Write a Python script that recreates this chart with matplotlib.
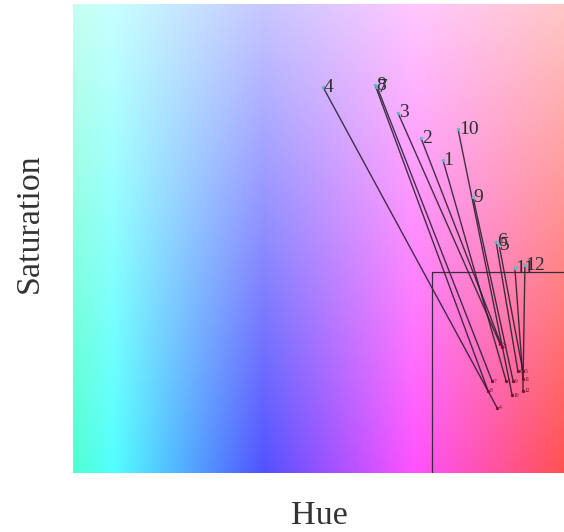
import numpy as np
import matplotlib
matplotlib.use('Agg')
import matplotlib.pyplot as plt
from matplotlib.colors import hsv_to_rgb

# hue in degrees, saturation in percent
labels = ['1', '2', '3', '4', '5', '6', '7', '8', '9', '10', '11', '12']
hue_start = [311.7, 302.9, 293.7, 263.8, 334.1, 332.9, 285.4, 284.6, 323.7, 317.7, 340.4, 344.4]
sat_start = [66.7, 71.4, 76.8, 82.3, 48.6, 49.3, 82.3, 82.7, 58.8, 73.3, 43.7, 44.3]
hue_end = [336.9, 335.3, 334.5, 333.3, 343.6, 341.6, 331.3, 329.7, 339.7, 339.3, 343.6, 343.6]
sat_end = [19.6, 26.9, 27.5, 13.9, 21.7, 21.7, 19.6, 17.5, 19.6, 16.6, 20.0, 17.5]

# target box
box_hue = 307.3
box_sat = 42.9

hue_min, hue_max = 164, 360
sat_min, sat_max = 0, 100

fig = plt.figure(figsize=(5.64, 5.32), dpi=100)
ax = fig.add_axes([73 / 564, 59 / 532, 491 / 564, 469 / 532])

# hue / saturation backdrop
hh, ss = np.meshgrid(np.linspace(hue_min, hue_max, 400), np.linspace(0, 1, 200))
hsv = np.dstack([(hh % 360) / 360, 0.68 - 0.46 * ss, np.ones_like(hh)])
ax.imshow(hsv_to_rgb(hsv), extent=[hue_min, hue_max, sat_min, sat_max],
          origin='lower', aspect='auto', interpolation='bilinear', zorder=0)

for i, lab in enumerate(labels):
    ax.plot([hue_start[i], hue_end[i]], [sat_start[i], sat_end[i]],
            color='#241a2a', lw=1.0, alpha=0.85, zorder=2)
    ax.plot(hue_start[i], sat_start[i], 'o', ms=2.5, color='#5fb8c8',
            mec='none', zorder=3)
    ax.plot(hue_end[i], sat_end[i], 'o', ms=2.4, color='#7a1030',
            mec='none', zorder=3)
    ax.annotate(lab, (hue_start[i], sat_start[i]), xytext=(0.5, 0),
                textcoords='offset points', fontsize=14, family='Liberation Serif',
                color='#2e2e2e', va='center', ha='left', zorder=4)
    ax.annotate(lab, (hue_end[i], sat_end[i]), xytext=(1, 0),
                textcoords='offset points', fontsize=4, family='Liberation Serif',
                color='#5a1028', va='center', ha='left', zorder=4)

ax.plot([box_hue, box_hue, hue_max + 20], [sat_min - 5, box_sat, box_sat],
        color='#3a2a3a', lw=0.9, zorder=2, clip_on=True)

ax.set_xlim(hue_min, hue_max)
ax.set_ylim(sat_min, sat_max)
ax.set_xticks([])
ax.set_yticks([])
for s in ax.spines.values():
    s.set_visible(False)

fig.text(319 / 564, 1 - 516 / 532, 'Hue', fontsize=24.5, family='Liberation Serif',
         color='#333333', ha='center', va='center')
fig.text(29 / 564, 1 - 223 / 532, 'Saturation', fontsize=24.5, family='Liberation Serif',
         color='#333333', ha='center', va='center', rotation=90)

fig.savefig('out.png', dpi=100)
